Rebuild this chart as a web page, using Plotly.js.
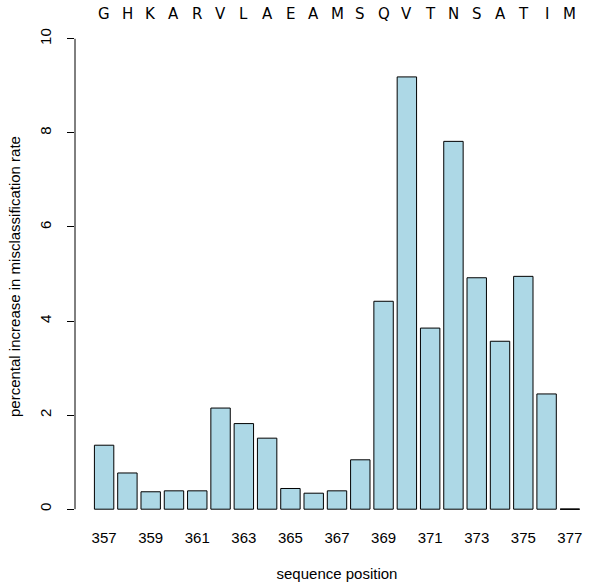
<!DOCTYPE html>
<html>
<head>
<meta charset="utf-8">
<script src="https://cdn.plot.ly/plotly-3.0.1.min.js"></script>
<style>html,body{margin:0;padding:0;background:#fff;}</style>
</head>
<body>
<div id="chart" style="width:600px;height:586px;"></div>
<script>
const positions = [357,358,359,360,361,362,363,364,365,366,367,368,369,370,371,372,373,374,375,376,377];
const residues = ["G","H","K","A","R","V","L","A","E","A","M","S","Q","V","T","N","S","A","T","I","M"];
const increase = [1.36,0.77,0.37,0.39,0.39,2.15,1.82,1.51,0.44,0.34,0.39,1.05,4.42,9.19,3.85,7.82,4.92,3.57,4.95,2.45,0];
const xTickLabels = ["357","359","361","363","365","367","369","371","373","375","377"];
const yTicks = [0,2,4,6,8,10];

const barWidth = 1/1.2;
const fontMain = "Liberation Sans, Arial, sans-serif";

const traces = [{
  type: 'bar',
  x: positions,
  y: increase,
  width: barWidth,
  marker: {color: '#ADD8E6', line: {color: '#000000', width: 1}},
  hoverinfo: 'x+y'
}];

// zero-height bars are drawn as a flat line, as R does
const zx = [], zy = [];
positions.forEach((p, i) => {
  if (increase[i] === 0) {
    zx.push(p - barWidth/2, p + barWidth/2, null);
    zy.push(0, 0, null);
  }
});
traces.push({type: 'scatter', mode: 'lines', x: zx, y: zy,
  line: {color: '#000000', width: 1}, hoverinfo: 'skip', showlegend: false});

const annotations = residues.map((r, i) => ({
  x: positions[i], xref: 'x', y: 1, yref: 'paper',
  yanchor: 'middle', yshift: 6, text: r, showarrow: false,
  font: {family: 'DejaVu Sans, sans-serif', size: 15, color: '#000'}
}));
annotations.push({
  x: 0, xref: 'paper', xshift: -61, y: 0.5, yref: 'paper', yshift: -3,
  text: 'percental increase in misclassification rate', textangle: -90,
  showarrow: false, xanchor: 'center', yanchor: 'middle',
  font: {family: fontMain, size: 15, color: '#000'}
});

const layout = {
  width: 600, height: 586,
  margin: {l: 75, r: 1, t: 20, b: 58, pad: 0},
  paper_bgcolor: '#fff', plot_bgcolor: '#fff',
  showlegend: false, bargap: 0,
  font: {family: fontMain, size: 15, color: '#000'},
  xaxis: {
    range: [positions[0] - 1.5/1.2, positions[positions.length-1] + 1.5/1.2],
    tickmode: 'array', tickvals: xTickLabels.map(Number), ticktext: xTickLabels,
    ticks: '', showline: false, showgrid: false, zeroline: false,
    ticklabelstandoff: -1,
    title: {text: 'sequence position', standoff: 23, font: {family: fontMain, size: 15}},
    automargin: false, fixedrange: true
  },
  yaxis: {
    range: [-0.4, 10.4],
    tickmode: 'array', tickvals: yTicks, ticktext: yTicks.map(String),
    ticks: 'outside', ticklen: 7, tickwidth: 1, tickcolor: '#000',
    tickangle: -90, ticklabelstandoff: 10,
    showline: false, showgrid: false, zeroline: false,
    automargin: false, fixedrange: true
  },
  shapes: [{
    type: 'line', xref: 'paper', x0: 0, x1: 0, yref: 'y',
    y0: yTicks[0], y1: yTicks[yTicks.length-1],
    line: {color: '#000', width: 1}
  }],
  annotations: annotations
};

Plotly.newPlot('chart', traces, layout, {displayModeBar: false, staticPlot: true});
</script>
</body>
</html>
